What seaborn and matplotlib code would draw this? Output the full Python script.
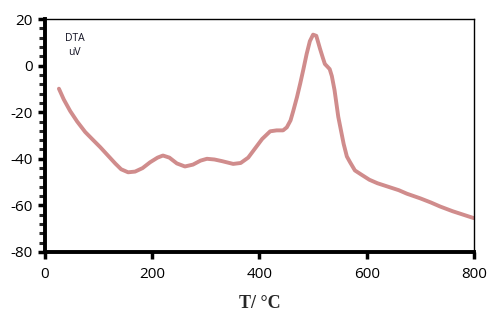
import matplotlib
matplotlib.use("Agg")
import matplotlib.pyplot as plt
import seaborn as sns
import pandas as pd
from matplotlib.ticker import MultipleLocator

temperature = [26, 35, 47, 60, 75, 90, 103, 117, 131, 142, 155, 168, 182, 196, 210, 220,
               232, 246, 261, 276, 290, 302, 316, 330, 351, 365, 379, 392, 405, 420, 432,
               444, 451, 458, 463, 470, 476, 482, 488, 494, 500, 506, 513, 518, 522, 527,
               531, 535, 540, 547, 557, 563, 569, 578, 590, 605, 620, 640, 660, 675, 700,
               720, 737, 760, 780, 800]
dta = [-9.9, -14.5, -19.5, -24, -28.5, -32, -35, -38.5, -42, -44.5, -45.8, -45.5, -44,
       -41.5, -39.5, -38.6, -39.5, -42, -43.3, -42.5, -40.8, -40, -40.3, -41, -42.2, -41.8,
       -39.5, -35.5, -31.5, -28.2, -27.8, -27.8, -26.5, -23.5, -19.5, -13.5, -7.7, -1.5,
       5, 10.5, 13.3, 12.8, 7.2, 3.5, 0.7, -0.5, -1.5, -4.5, -10.5, -22, -33.6, -39, -41.5,
       -45, -46.8, -49, -50.5, -52, -53.5, -55, -57, -58.8, -60.5, -62.5, -64, -65.5]

x_ticks = [0, 200, 400, 600, 800]
y_ticks = [20, 0, -20, -40, -60, -80]

sns.set_theme(style="white")
plt.rcParams['font.family'] = ['Open Sans', 'DejaVu Sans']
plt.rcParams['axes.unicode_minus'] = False

df = pd.DataFrame({"T": temperature, "DTA": dta})

fig = plt.figure(figsize=(5.02, 3.23), dpi=100)
ax = fig.add_axes([0.0896, 0.22, 0.8545, 0.721])
sns.lineplot(data=df, x="T", y="DTA", sort=False, color="#d08c8c", linewidth=2.8, ax=ax)

ax.set_xlim(0, 800)
ax.set_ylim(-80, 20)
ax.set_xticks(x_ticks)
ax.set_yticks(y_ticks)
ax.yaxis.set_minor_locator(MultipleLocator(4))

for s in ["left", "bottom"]:
    ax.spines[s].set_linewidth(2.8)
    ax.spines[s].set_color("black")
for s in ["top", "right"]:
    ax.spines[s].set_linewidth(1.0)
    ax.spines[s].set_color("black")

ax.tick_params(axis="both", which="major", direction="out", length=5, width=2.5,
               labelsize=11, colors="black", pad=4, bottom=True, left=True)
ax.tick_params(axis="y", which="minor", direction="out", length=4, width=2.2, left=True)
ax.tick_params(axis="x", which="major", pad=6)

ax.set_xlabel("T/ °C", fontfamily="Liberation Serif", fontweight="bold", fontsize=13, labelpad=9)
ax.set_ylabel("")

ax.text(55, 11.5, "DTA", fontsize=7.5, ha="center", va="center", color="#111122")
ax.text(55, 5.5, "uV", fontsize=7.5, ha="center", va="center", color="#111122")

fig.savefig("out.png", dpi=100)
